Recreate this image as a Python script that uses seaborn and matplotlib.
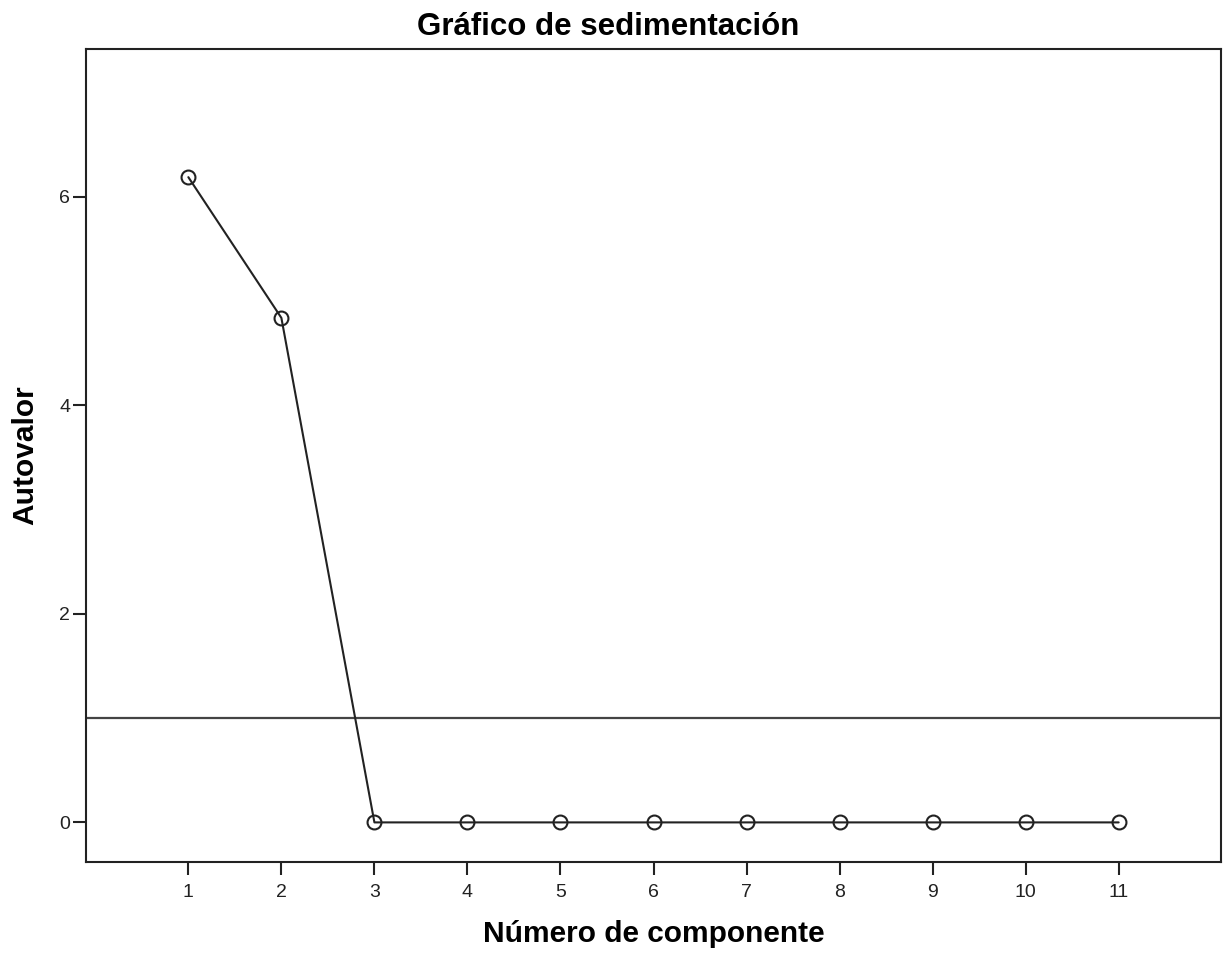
import numpy as np
import pandas as pd
import matplotlib
matplotlib.use('Agg')
import matplotlib.pyplot as plt
import seaborn as sns

componentes = list(range(1, 12))
autovalores = [6.19, 4.84, 0.0, 0.0, 0.0, 0.0, 0.0, 0.0, 0.0, 0.0, 0.0]
referencia = 1.0

df = pd.DataFrame({'Número de componente': componentes, 'Autovalor': autovalores})

sns.set_theme(style='ticks')
plt.rcParams['font.family'] = ['Liberation Sans', 'DejaVu Sans']

fig = plt.figure(figsize=(12.27, 9.58), dpi=100)
ax = fig.add_axes([0.0701, 0.1002, 0.925, 0.8487])

ax.axhline(referencia, color='#444444', linewidth=1.6, zorder=1)
sns.lineplot(data=df, x='Número de componente', y='Autovalor', ax=ax,
             color='#222222', linewidth=1.5, marker='o', markersize=10,
             markerfacecolor='none', markeredgecolor='#222222', markeredgewidth=1.5)

ax.set_xlim(-0.1, 12.1)
ax.set_ylim(-0.38, 7.42)
ax.set_xticks(componentes)
ax.set_yticks([0, 2, 4, 6])
ax.tick_params(direction='out', length=9.5, width=1.5, colors='#222222', labelsize=14)
ax.tick_params(axis='x', pad=6)
ax.tick_params(axis='y', pad=2)
for s in ax.spines.values():
    s.set_color('#222222')
    s.set_linewidth(1.5)

# el título está centrado en la figura, no en los ejes
ax.set_title('Gráfico de sedimentación', fontsize=22.5, fontweight='bold', pad=10,
             color='black', x=0.46)
ax.set_xlabel('Número de componente', fontsize=21.5, fontweight='bold', labelpad=14, color='black')
ax.set_ylabel('Autovalor', fontsize=21.5, fontweight='bold', labelpad=14, color='black')

fig.savefig('out.png', dpi=100)
